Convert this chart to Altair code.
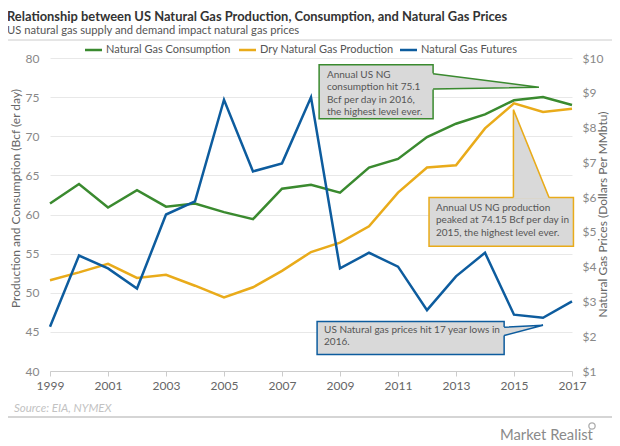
import altair as alt
import pandas as pd

years = list(range(1999, 2018))
consumption = [61.4, 63.9, 60.9, 63.1, 61.0, 61.4, 60.3, 59.4, 63.3, 63.8,
               62.8, 66.0, 67.1, 69.9, 71.6, 72.8, 74.6, 75.0, 74.0]
production = [51.6, 52.6, 53.7, 51.9, 52.3, 50.9, 49.4, 50.7, 52.8, 55.2,
              56.4, 58.5, 62.8, 66.0, 66.3, 71.0, 74.2, 73.1, 73.5]
futures = [2.27, 4.32, 3.95, 3.37, 5.50, 5.88, 8.80, 6.74, 6.97, 8.87,
           3.95, 4.40, 4.00, 2.75, 3.72, 4.40, 2.62, 2.53, 3.00]

series_names = ["Natural Gas Consumption", "Dry Natural Gas Production", "Natural Gas Futures"]
series_colors = ["#3a8a2f", "#e9ab1a", "#0d5c9e"]

title_text = "Relationship between US Natural Gas Production, Consumption,  and  Natural Gas Prices"
subtitle_text = "US natural gas supply and demand impact natural gas prices"
source_text = "Source: EIA, NYMEX"
brand_text = "Market Realist"
left_title = "Production and Consumption (Bcf (er day)"
right_title = "Natural Gas Prices (Dollars Per MMbtu)"

notes = [
    "Annual US NG\nconsumption hit 75.1\nBcf per day in 2016,\nthe highest level ever.",
    "Annual US NG production\npeaked at 74.15 Bcf per day in\n2015, the highest level ever.",
    "US Natural gas prices hit 17 year lows in\n2016.",
]
# callout boxes in data units (year, Bcf)
box_x = [2008.28, 2012.07, 2008.21]
box_x2 = [2012.21, 2017.05, 2014.66]
box_y = [79.14, 62.16, 46.32]
box_y2 = [72.25, 55.94, 42.11]
text_x = [2008.55, 2012.31, 2008.45]
text_y = [78.5, 61.5, 45.9]

# legend item placement (pixels from plot-area left)
legend_sym_x = [35, 189, 350]

FONT = "Lato"
GRAY_TEXT = "#555555"

df_left = pd.DataFrame({
    "year": years * 2,
    "value": consumption + production,
    "series": [series_names[0]] * len(years) + [series_names[1]] * len(years),
})
df_right = pd.DataFrame({"year": years, "value": futures, "series": series_names[2]})

color_scale = alt.Scale(domain=series_names, range=series_colors)
xscale = alt.Scale(domain=[1999, 2017], nice=False)
x_axis = alt.Axis(values=list(range(1999, 2018, 2)), format="d", title=None, grid=False,
                  domainColor="#cccccc", tickColor="#cccccc", tickSize=5, labelFlush=False,
                  labelColor="#666666", labelFont=FONT, labelFontSize=12, labelPadding=4)


def yl(field="y"):
    return alt.Y(f"{field}:Q", scale=alt.Scale(domain=[40, 80], nice=False, zero=False), axis=None)


yl_axis = alt.Axis(values=list(range(40, 81, 5)), grid=True, gridColor="#e8e8e8", orient="left",
                   domain=False, ticks=False, labelColor="#888888", labelFont=FONT,
                   labelFontSize=12, labelPadding=11, title=left_title, titleFont=FONT,
                   titleFontSize=12, titleFontWeight="normal", titleColor="#666666",
                   titleAngle=270, titleX=-35, titleY=140, titleAlign="center",
                   titleBaseline="middle")
yr_axis = alt.Axis(values=list(range(1, 11)), labelExpr="'$' + datum.value", grid=False,
                   domain=False, ticks=False, orient="right", labelColor="#888888",
                   labelFont=FONT, labelFontSize=12, labelPadding=10, title=right_title,
                   titleFont=FONT, titleFontSize=12, titleFontWeight="normal",
                   titleColor="#666666", titleAngle=270, titleX=30, titleY=156,
                   titleAlign="center", titleBaseline="middle")

left_lines = alt.Chart(df_left).mark_line(strokeWidth=2.5).encode(
    x=alt.X("year:Q", scale=xscale, axis=x_axis),
    y=alt.Y("value:Q", scale=alt.Scale(domain=[40, 80], nice=False, zero=False), axis=yl_axis),
    color=alt.Color("series:N", scale=color_scale, legend=None),
)

right_line = alt.Chart(df_right).mark_line(strokeWidth=2.5).encode(
    x=alt.X("year:Q", scale=xscale),
    y=alt.Y("value:Q", scale=alt.Scale(domain=[1, 10], nice=False, zero=False), axis=yr_axis),
    color=alt.Color("series:N", scale=color_scale, legend=None),
)

# legend drawn as marks
df_leg = pd.DataFrame({"series": series_names, "sx": legend_sym_x})
leg_sym = alt.Chart(df_leg).transform_calculate(sx2="datum.sx + 17").mark_rule(strokeWidth=2.5).encode(
    x=alt.X("sx:Q", scale=None), x2="sx2:Q", y=alt.value(-8),
    color=alt.Color("series:N", scale=color_scale, legend=None),
)
leg_txt = alt.Chart(df_leg).transform_calculate(tx="datum.sx + 21").mark_text(
    align="left", baseline="middle", font=FONT, fontSize=11, color=GRAY_TEXT
).encode(x=alt.X("tx:Q", scale=None), y=alt.value(-8), text="series:N")

# callouts
df_box = pd.DataFrame({"x": box_x, "x2": box_x2, "y": box_y, "y2": box_y2,
                       "c": series_names})
boxes = alt.Chart(df_box).mark_rect(fill="#d9d9d9", strokeWidth=1.5).encode(
    x=alt.X("x:Q", scale=xscale), x2="x2:Q",
    y=yl(), y2="y2:Q",
    stroke=alt.Stroke("c:N", scale=color_scale, legend=None),
)

ptr_area = pd.DataFrame({
    "pid": ["g", "g", "o", "o", "b", "b"],
    "x": [2012.15, 2015.86, 2014.98, 2016.21, 2014.60, 2016.00],
    "y": [78.05, 76.25, 73.40, 62.16, 45.62, 45.85],
    "y2": [75.98, 76.25, 62.00, 62.00, 44.50, 45.85],
})
pointer_fill = alt.Chart(ptr_area).mark_area(fill="#d9d9d9", orient="vertical").encode(
    x=alt.X("x:Q", scale=xscale),
    y=yl(), y2="y2:Q",
    detail="pid:N",
)
ptr_edges = pd.DataFrame({
    "pid": ["g"] * 3 + ["o"] * 3 + ["b"] * 3,
    "c": [series_names[0]] * 3 + [series_names[1]] * 3 + [series_names[2]] * 3,
    "o": [0, 1, 2] * 3,
    "x": [2012.21, 2015.86, 2012.21, 2014.98, 2014.98, 2016.21, 2014.66, 2016.00, 2014.66],
    "y": [78.0, 76.25, 76.04, 62.16, 73.40, 62.16, 45.6, 45.85, 44.54],
})
pointer_lines = alt.Chart(ptr_edges).mark_line(strokeWidth=1.5).encode(
    x=alt.X("x:Q", scale=xscale),
    y=yl(),
    stroke=alt.Stroke("c:N", scale=color_scale, legend=None),
    detail="pid:N", order="o:Q",
)
df_notes = pd.DataFrame({"x": text_x, "y": text_y, "t": notes})
note_text = alt.Chart(df_notes).mark_text(
    align="left", baseline="top", lineBreak="\n", lineHeight=12.5,
    font=FONT, fontSize=10, color=GRAY_TEXT,
).encode(
    x=alt.X("x:Q", scale=xscale),
    y=yl(),
    text="t:N",
)


def txt(s, x, y, **kw):
    return alt.Chart(pd.DataFrame({"t": [s]})).mark_text(align="left", baseline="alphabetic", **kw).encode(
        x=alt.value(x), y=alt.value(y), text="t:N")


title = txt(title_text, -43, -37, font=FONT, fontSize=12.9, fontWeight="bold", color="#333333")
subtitle = txt(subtitle_text, -43, -24.5, font=FONT, fontSize=11.2, color=GRAY_TEXT)
source = txt(source_text, -36, 353.5, font=FONT, fontSize=11.5, fontStyle="italic", color="#c2c2c2")
brand = txt(brand_text, 450, 382, font=FONT, fontSize=14.8, color="#8a8a8a")

rule_top = alt.Chart(pd.DataFrame({"a": [0]})).mark_rule(color="#cccccc", strokeWidth=1).encode(
    x=alt.value(-42), x2=alt.value(562), y=alt.value(-18))
rule_bot = alt.Chart(pd.DataFrame({"a": [0]})).mark_rule(color="#d5d5d5", strokeWidth=2).encode(
    x=alt.value(-42), x2=alt.value(562), y=alt.value(359))
lens = alt.Chart(pd.DataFrame({"a": [0]})).mark_point(shape="circle", size=40, color="#8a8a8a",
                                                      strokeWidth=1.3).encode(
    x=alt.value(542), y=alt.value(368))

chart = alt.layer(
    left_lines, right_line, boxes, pointer_fill, pointer_lines, note_text,
    leg_sym, leg_txt, title, subtitle, source, brand, rule_top, rule_bot, lens
).resolve_scale(y="independent").properties(
    width=522, height=313,
    autosize=alt.AutoSizeParams(type="none"),
    padding={"left": 42, "top": 50, "right": 40, "bottom": 75},
).configure_view(stroke=None)

chart.save("out.html", embed_options={"renderer": "svg", "actions": False})
